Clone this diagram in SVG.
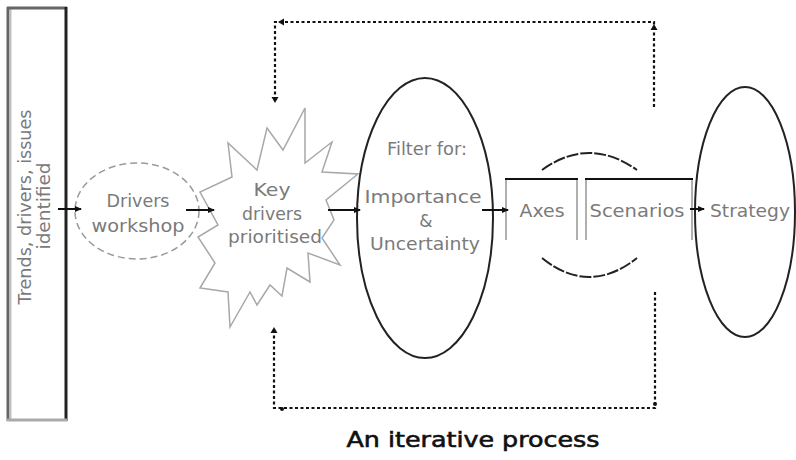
<svg xmlns="http://www.w3.org/2000/svg" width="796" height="460" viewBox="0 0 796 460">
<style>
.lbl{font-family:"DejaVu Sans","Liberation Sans",sans-serif;font-size:17px;fill:#7a7a7a;text-anchor:middle}
.cap{font-family:"DejaVu Sans","Liberation Sans",sans-serif;font-size:21px;fill:#111;text-anchor:middle;stroke:#111;stroke-width:0.6}
.solid{stroke:#111;stroke-width:2;fill:none}
.dot{stroke:#111;stroke-width:2.2;fill:none;stroke-dasharray:3 2.5}
.ell{stroke:#222;stroke-width:2;fill:none}
.tri{fill:#111}
</style>
<defs>
<marker id="arr" markerUnits="userSpaceOnUse" markerWidth="7" markerHeight="7" refX="6" refY="3.5" orient="auto">
<path d="M0,0.5 L7,3.5 L0,6.5 z" fill="#111"/>
</marker>
</defs>
<rect width="796" height="460" fill="#fff"/>

<g id="trends">
<rect x="8" y="8" width="58" height="412" fill="#fff" stroke="none"/>
<line x1="8" y1="7" x2="8" y2="421" stroke="#666" stroke-width="3"/>
<line x1="10.5" y1="8" x2="10.5" y2="420" stroke="#c0c0c0" stroke-width="2"/>
<line x1="7" y1="8" x2="67" y2="8" stroke="#666" stroke-width="3"/>
<line x1="66" y1="7" x2="66" y2="421" stroke="#222" stroke-width="3"/>
<line x1="7" y1="420" x2="67" y2="420" stroke="#aaa" stroke-width="3"/>
<text class="lbl" transform="translate(31,207) rotate(-90)" textLength="195" lengthAdjust="spacingAndGlyphs">Trends, drivers, issues</text>
<text class="lbl" transform="translate(50,206) rotate(-90)" textLength="87" lengthAdjust="spacingAndGlyphs">identified</text>
</g>

<g id="workshop">
<ellipse cx="137" cy="211" rx="62" ry="48" fill="#fff" stroke="#9a9a9a" stroke-width="1.5" stroke-dasharray="7 4"/>
<text class="lbl" x="138" y="207" textLength="63" lengthAdjust="spacingAndGlyphs">Drivers</text>
<text class="lbl" x="138" y="232" textLength="93" lengthAdjust="spacingAndGlyphs">workshop</text>
</g>

<g id="keydrivers">
<polygon points="305,108 305,163 332,142 322,172 358,174 326,200 334,220 322,238 340,265 308,253 310,282 287,268 282,296 270,285 257,305 250,292 230,327 228,292 200,288 215,263 198,237 218,225 200,192 232,177 228,143 257,170 267,128 283,150" fill="#fff" stroke="#a8a8a8" stroke-width="1.5" stroke-linejoin="miter"/>
<text class="lbl" x="272" y="196" textLength="37" lengthAdjust="spacingAndGlyphs">Key</text>
<text class="lbl" x="272" y="220" textLength="60" lengthAdjust="spacingAndGlyphs">drivers</text>
<text class="lbl" x="275" y="243" textLength="94" lengthAdjust="spacingAndGlyphs">prioritised</text>
</g>

<g id="filter">
<ellipse class="ell" cx="425" cy="218" rx="68" ry="140" fill="#fff"/>
<text class="lbl" x="427" y="155" textLength="80" lengthAdjust="spacingAndGlyphs">Filter for:</text>
<text class="lbl" x="423" y="203" textLength="117" lengthAdjust="spacingAndGlyphs">Importance</text>
<text class="lbl" x="426" y="227">&amp;</text>
<text class="lbl" x="425" y="250" textLength="110" lengthAdjust="spacingAndGlyphs">Uncertainty</text>
</g>

<g id="axes">
<line x1="506" y1="179" x2="506" y2="240" stroke="#b0b0b0" stroke-width="2"/>
<line x1="577" y1="179" x2="577" y2="240" stroke="#b0b0b0" stroke-width="2"/>
<line x1="505" y1="179" x2="578" y2="179" stroke="#111" stroke-width="2"/>
<text class="lbl" x="542" y="217" textLength="45" lengthAdjust="spacingAndGlyphs">Axes</text>
</g>

<g id="scenarios">
<line x1="586" y1="179" x2="586" y2="240" stroke="#b0b0b0" stroke-width="2"/>
<line x1="692" y1="179" x2="692" y2="240" stroke="#b0b0b0" stroke-width="2"/>
<line x1="585" y1="179" x2="693" y2="179" stroke="#111" stroke-width="2"/>
<text class="lbl" x="637" y="217" textLength="95" lengthAdjust="spacingAndGlyphs">Scenarios</text>
</g>

<g id="strategy">
<ellipse class="ell" cx="745" cy="212" rx="50" ry="125" fill="#fff"/>
<text class="lbl" x="750" y="217" textLength="80" lengthAdjust="spacingAndGlyphs">Strategy</text>
</g>

<g id="connectors">
<line class="solid" x1="58" y1="209" x2="81" y2="209" marker-end="url(#arr)"/>
<line class="solid" x1="186" y1="210" x2="214" y2="210" marker-end="url(#arr)"/>
<line class="solid" x1="328" y1="210" x2="360" y2="210" marker-end="url(#arr)"/>
<line class="solid" x1="482" y1="210" x2="508" y2="210" marker-end="url(#arr)"/>
<line class="solid" x1="690" y1="209" x2="704" y2="209" marker-end="url(#arr)"/>
<path d="M542,170 Q589,136 637,170" stroke="#222" stroke-width="2" fill="none" stroke-dasharray="12 2"/>
<path d="M542,258 Q589,296 637,258" stroke="#222" stroke-width="2" fill="none" stroke-dasharray="12 2"/>
<path class="dot" d="M654,107 L654,22 L275,22 L275,100"/>
<path class="dot" d="M655,292 L655,408 L274,408 L274,330"/>
<path class="tri" d="M650.5,30 L654,24 L657.5,30 z"/>
<path class="tri" d="M284,18.5 L278,22 L284,25.5 z"/>
<path class="tri" d="M271.5,97 L275,103 L278.5,97 z"/>
<path class="tri" d="M270.5,333 L274,327 L277.5,333 z"/>
<circle class="tri" cx="282" cy="409" r="2"/>
<circle class="tri" cx="655" cy="404" r="2"/>
</g>

<text class="cap" x="473" y="447" textLength="253" lengthAdjust="spacingAndGlyphs">An iterative process</text>
</svg>
